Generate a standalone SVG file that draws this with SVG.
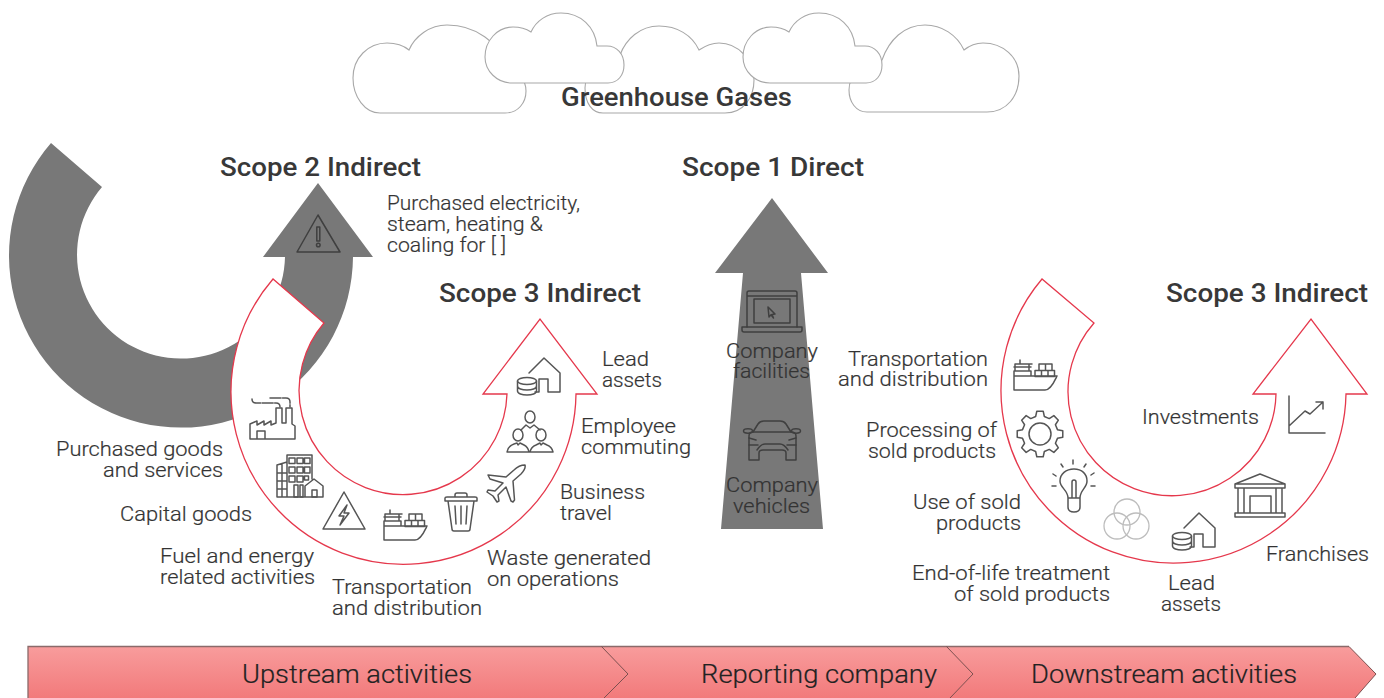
<svg xmlns="http://www.w3.org/2000/svg" xmlns:xlink="http://www.w3.org/1999/xlink" width="1384" height="698" viewBox="0 0 1384 698">
<style>
text{font-family:Roboto,"Liberation Sans",sans-serif}
.t{font-size:20.5px;font-weight:300;fill:#333;stroke:#333;stroke-width:.2}
.h{font-size:25px;font-weight:500;fill:#383838}
.b{font-size:25.5px;font-weight:300;fill:#222;stroke:#222;stroke-width:.2}
.cloud{fill:#fff;stroke:#a8a8a8;stroke-width:1.1}
.grey{fill:#787878;stroke:none}
.red{fill:#fff;stroke:#e5384c;stroke-width:1.3;stroke-linejoin:miter}
.i{fill:none;stroke:#555;stroke-width:1.5;stroke-linejoin:round;stroke-linecap:round}
.dk{stroke:#3f3f3f}
.sep{fill:none;stroke:#7d5050;stroke-width:1}
</style>
<defs>
<linearGradient id="barFill" x1="0" y1="0" x2="0" y2="1"><stop offset="0" stop-color="#f89c9c"/><stop offset="1" stop-color="#f27a7b"/></linearGradient>
<path id="smallCloud" class="cloud" d="M512 83H608C618 83 624 75 624 65C624 54 617 46 607 46H597C595 27 581 13 561 13C547 13 536 21 531 32C525 28 519 27 513 27C497 27 485 41 485 57C485 71 497 83 512 83Z"/>
<g id="ship"><path d="M384 521V540H415C421 540 425 530 427 526H401V521ZM384 526H401M385 521V514H402M384 517H401M390 510V514M399 514V521"/><path d="M409 514h6.500v6.500h-6.500zM415.500 514h6.500v6.500h-6.500zM405 520.500h6.500v6h-6.500zM411.500 520.500h6.500v6h-6.500zM418 520.500h6.500v6h-6.500z"/></g>
<g id="coinHouse"><path d="M529 373L544 358L560 373V392H548V379H539V392H535"/><ellipse cx="527" cy="381" rx="9.500" ry="3.500"/><path d="M517.500 381V391C517.500 393.500 522 395 527 395S536.500 393.500 536.500 391V381M517.500 386C517.500 388.500 522 390 527 390S536.500 388.500 536.500 386"/></g>
</defs>
<g id="clouds">
<path class="cloud" d="M380 113H505C518 113 526 103 526 91C526 80 518 70 505 68C500 42 475 25 447 25C430 25 415 36 409 50C403 45 395 43 387 43C368 43 353 58 353 78C353 97 365 113 380 113Z"/>
<path class="cloud" d="M603 113H725C744 113 754 97 754 80C754 60 738 43 719 43C711 43 705 46 699 50C692 35 677 26 659 26C640 26 626 39 620 55C600 57 585 70 585 88C585 103 592 113 603 113Z"/>
<path class="cloud" d="M867 112H987C1007 112 1019 96 1019 76C1019 57 1003 43 983 43C975 43 969 46 964 50C957 35 942 25 925 25C904 25 889 40 882 60C862 62 849 75 849 90C849 102 856 112 867 112Z"/>
<use xlink:href="#smallCloud" href="#smallCloud"/>
<use xlink:href="#smallCloud" href="#smallCloud" x="258"/>
</g>
<g id="scope2-arrow">
<path class="grey" d="M51 143A172 172 0 1 0 353 257H373L318 183L263 257H285A104 104 0 1 1 102 187Z"/>
<g class="i dk"><path d="M318 215L340 252H297Z"/><path d="M316.800 227h3v14h-3z"/><circle cx="318.300" cy="245" r="1.800"/></g>
</g>
<g id="scope1-arrow">
<path class="grey" d="M772 198L828 273H801L823 529H721L743 273H715Z"/>
<g id="laptop" class="i dk"><path d="M747 327V293Q747 291 749 291H795Q797 291 797 293V327M747 296H797"/><path d="M754 299h36v24h-36z"/><path d="M742 327H802V330Q802 332 800 332H744Q742 332 742 330Z"/><path d="M768 307L775 314L772 314.500L773.500 318L771 314.800L769 317Z"/></g>
<g id="car" class="i dk"><path d="M753 432L758 424Q760 421 764 421H780Q784 421 786 424L791 432"/><path d="M749 436Q749 432 753 432H791Q796 432 796 436V460H786V453Q786 450 782 450H763Q759 450 759 453V460H749Z"/><path d="M757 450Q761 444 765 444H780Q784 444 788 450"/><ellipse cx="748" cy="431" rx="4.500" ry="2.200"/><ellipse cx="796" cy="431" rx="4.500" ry="2.200"/><path d="M749 438L756 440M796 438L789 440M749 445H758M796 445H787"/></g>
</g>
<g id="scope3-upstream-arrow">
<path class="red" d="M273 279A172.500 172.500 0 1 0 576 394H597L540 319L483 394H507A104 104 0 1 1 324 323Z"/>
<g id="factory" class="i"><path d="M250 439V424L257 421V425L264 421V425L271 421V425L276 423V408H282V423H286V408H292V424L295 426V439ZM257 439V431H265V439"/><path d="M252 399Q252 403 256 403H276Q280 403 280 407M270 398H286Q290 398 290 402V407" stroke-dasharray="11 1.500"/></g>
<g id="building" class="i"><path d="M287 497V455H312V479M277 497V465L287 462M277 497H323V486L314 479L305 486V497M287 473H277M287 481H277M287 489H277M282 464V497"/><path d="M289 458h6v5.500h-6zM297 458h6v5.500h-6zM304.500 458h5.500v5.500h-5.500zM289 467h6v6h-6zM297 467h6v6h-6zM304.500 467h5.500v6h-5.500zM289 476h6v6h-6zM297 476h6v6h-6zM304.500 476h4v4h-4zM294 485h4v12h-4zM300 485h3v12h-3z"/><path d="M312 490h5v7h-5z"/></g>
<g id="hazard" class="i"><path d="M344 492L365 529H323Z"/><path d="M347 505L339 516H344L340 525L349 513H344Z"/></g>
<use class="i" xlink:href="#ship" href="#ship"/>
<g id="bin" class="i"><path d="M445 498Q445 497 447 497H475Q477 497 477 498V501H445ZM455 497V495Q455 493 457 493H465Q467 493 467 495V497M448 501L452 529Q452 531 454 531H468Q470 531 470 529L474 501M455 506L456 524M461 506V524M467 506L466 524"/></g>
<path id="plane" class="i" d="M525 465Q519 465 514 470L506 477L488 475L490 479L503 483L495 491L488 490L487 492L493 496L497 502L499 501L498 495L506 487L511 501L513 502L514.500 500L513 481L521 474Q526 469 525 465Z"/>
<g id="people" class="i"><ellipse cx="530" cy="417" rx="5" ry="6"/><ellipse cx="518" cy="435" rx="5" ry="6"/><ellipse cx="541" cy="435" rx="5" ry="6"/><path d="M507 452Q508 446 514 444L517 443L518 445L520 443L524 445Q528 447 529 452ZM507 452H529M530 452Q531 447 536 445L540 443L541 445L543 443L547 445Q552 447 553 452ZM521 430L526 425L530 428L534 425L540 430"/></g>
<use class="i" xlink:href="#coinHouse" href="#coinHouse"/>
</g>
<g id="scope3-downstream-arrow">
<path class="red" d="M1042 279A172.500 172.500 0 1 0 1346 394H1367L1311 319L1253 394H1276A104 104 0 1 1 1094 323Z"/>
<use class="i" xlink:href="#ship" href="#ship" x="630" y="-150"/>
<g id="gear" class="i" transform="translate(1040 434)"><path d="M17.470 -4.350L22.780 -3.200L22.780 3.200L17.470 4.350L15.430 9.270L18.370 13.840L13.840 18.370L9.270 15.430L4.350 17.470L3.200 22.780L-3.200 22.780L-4.350 17.470L-9.270 15.430L-13.840 18.370L-18.370 13.840L-15.430 9.270L-17.470 4.350L-22.780 3.200L-22.780 -3.200L-17.470 -4.350L-15.430 -9.270L-18.370 -13.840L-13.840 -18.370L-9.270 -15.430L-4.350 -17.470L-3.200 -22.780L3.200 -22.780L4.350 -17.470L9.270 -15.430L13.840 -18.370L18.370 -13.840L15.430 -9.270Z"/><circle r="11"/></g>
<g id="bulb" class="i"><path d="M1068 498C1068 490 1060 488 1060 481C1060 474 1066 469 1074 469C1082 469 1087 474 1087 481C1087 488 1080 490 1080 498V507Q1080 512 1074 512Q1068 512 1068 507ZM1068 498H1080M1072 498V482Q1072 480 1074 480Q1076 480 1076 482V498M1073 460V464M1061 464L1063 467M1086 464L1084 467M1053 474L1056 476M1094 473L1091 475M1052 486H1056M1091 486H1095"/></g>
<g id="venn" fill="none" stroke="#bdbdbd" stroke-width="1.300"><circle cx="1127" cy="512" r="13"/><circle cx="1117" cy="526" r="13"/><circle cx="1136" cy="526" r="13"/></g>
<use class="i" xlink:href="#coinHouse" href="#coinHouse" x="655" y="155"/>
<g id="bank" class="i"><path d="M1235 484L1260 474L1285 484ZM1235 484H1285V488H1235ZM1238 488V513M1244 488V513M1276 488V513M1282 488V513M1250 513V496H1271V513M1235 513H1285V517H1235Z"/></g>
<g id="chart" class="i"><path d="M1289 396V433H1325M1289 426L1305 411L1310 414L1323 402M1316 402H1323V409"/></g>
</g>
<g id="timeline">
<path d="M28 646.500H1349L1376 674L1355 698H28Z" fill="url(#barFill)"/>
<path d="M28 698V646.500H1349" fill="none" stroke="#8a6a6a" stroke-width="1.300"/>
<path class="sep" d="M601.500 646.500L628 674L604 698M946.500 646.500L973 674L950 698M1349 646.500L1376 674L1355 698"/>
<text class="b" x="242" y="683" textLength="230" lengthAdjust="spacingAndGlyphs">Upstream activities</text>
<text class="b" x="701" y="683" textLength="236" lengthAdjust="spacingAndGlyphs">Reporting company</text>
<text class="b" x="1031" y="683" textLength="266" lengthAdjust="spacingAndGlyphs">Downstream activities</text>
</g>
<g id="titles">
<text class="h" x="561" y="106" textLength="231" lengthAdjust="spacingAndGlyphs">Greenhouse Gases</text>
<text class="h" x="220" y="176" textLength="201" lengthAdjust="spacingAndGlyphs">Scope 2 Indirect</text>
<text class="h" x="682" y="176" textLength="182" lengthAdjust="spacingAndGlyphs">Scope 1 Direct</text>
<text class="h" x="439" y="302" textLength="202" lengthAdjust="spacingAndGlyphs">Scope 3 Indirect</text>
<text class="h" x="1166" y="302" textLength="202" lengthAdjust="spacingAndGlyphs">Scope 3 Indirect</text>
</g>
<g id="labels">
<text class="t" x="387" y="210" textLength="193" lengthAdjust="spacingAndGlyphs">Purchased electricity,</text>
<text class="t" x="387" y="231" textLength="156" lengthAdjust="spacingAndGlyphs">steam, heating &amp;</text>
<text class="t" x="387" y="252" textLength="119" lengthAdjust="spacingAndGlyphs">coaling for [ ]</text>
<text class="t" x="602" y="366" textLength="47" lengthAdjust="spacingAndGlyphs">Lead</text>
<text class="t" x="602" y="387" textLength="60" lengthAdjust="spacingAndGlyphs">assets</text>
<text class="t" x="581" y="433" textLength="95" lengthAdjust="spacingAndGlyphs">Employee</text>
<text class="t" x="581" y="454" textLength="110" lengthAdjust="spacingAndGlyphs">commuting</text>
<text class="t" x="560" y="499" textLength="85" lengthAdjust="spacingAndGlyphs">Business</text>
<text class="t" x="560" y="520" textLength="52" lengthAdjust="spacingAndGlyphs">travel</text>
<text class="t" x="487" y="565" textLength="164" lengthAdjust="spacingAndGlyphs">Waste generated</text>
<text class="t" x="487" y="586" textLength="132" lengthAdjust="spacingAndGlyphs">on operations</text>
<text class="t" x="332" y="594" textLength="140" lengthAdjust="spacingAndGlyphs">Transportation</text>
<text class="t" x="332" y="615" textLength="150" lengthAdjust="spacingAndGlyphs">and distribution</text>
<text class="t" x="160" y="563" textLength="154" lengthAdjust="spacingAndGlyphs">Fuel and energy</text>
<text class="t" x="160" y="584" textLength="155" lengthAdjust="spacingAndGlyphs">related activities</text>
<text class="t" x="120" y="521" textLength="132" lengthAdjust="spacingAndGlyphs">Capital goods</text>
<text class="t" x="56" y="456" textLength="167" lengthAdjust="spacingAndGlyphs">Purchased goods</text>
<text class="t" x="103" y="477" textLength="120" lengthAdjust="spacingAndGlyphs">and services</text>
<text class="t" x="726" y="358" textLength="92" lengthAdjust="spacingAndGlyphs">Company</text>
<text class="t" x="733" y="378" textLength="77" lengthAdjust="spacingAndGlyphs">facilities</text>
<text class="t" x="726" y="492" textLength="92" lengthAdjust="spacingAndGlyphs">Company</text>
<text class="t" x="733" y="513" textLength="77" lengthAdjust="spacingAndGlyphs">vehicles</text>
<text class="t" x="848" y="366" textLength="140" lengthAdjust="spacingAndGlyphs">Transportation</text>
<text class="t" x="838" y="386" textLength="150" lengthAdjust="spacingAndGlyphs">and distribution</text>
<text class="t" x="866" y="437" textLength="131" lengthAdjust="spacingAndGlyphs">Processing of</text>
<text class="t" x="868" y="458" textLength="128" lengthAdjust="spacingAndGlyphs">sold products</text>
<text class="t" x="913" y="509" textLength="108" lengthAdjust="spacingAndGlyphs">Use of sold</text>
<text class="t" x="936" y="530" textLength="85" lengthAdjust="spacingAndGlyphs">products</text>
<text class="t" x="912" y="580" textLength="198" lengthAdjust="spacingAndGlyphs">End-of-life treatment</text>
<text class="t" x="954" y="601" textLength="156" lengthAdjust="spacingAndGlyphs">of sold products</text>
<text class="t" x="1168" y="590" textLength="47" lengthAdjust="spacingAndGlyphs">Lead</text>
<text class="t" x="1161" y="611" textLength="60" lengthAdjust="spacingAndGlyphs">assets</text>
<text class="t" x="1266" y="561" textLength="103" lengthAdjust="spacingAndGlyphs">Franchises</text>
<text class="t" x="1142" y="424" textLength="117" lengthAdjust="spacingAndGlyphs">Investments</text>
</g>
</svg>
